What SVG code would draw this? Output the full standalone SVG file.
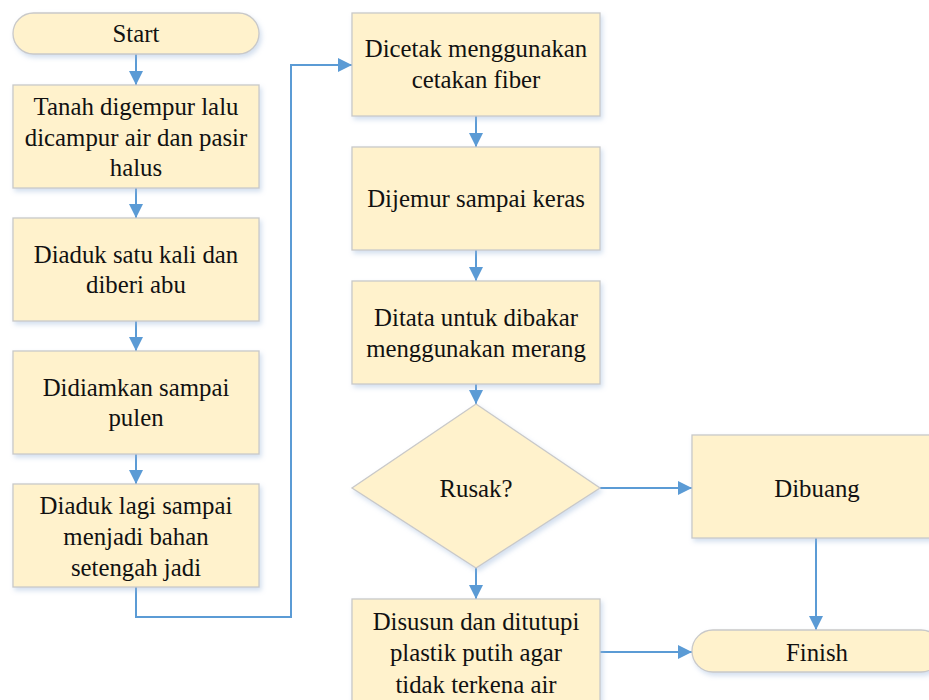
<svg xmlns="http://www.w3.org/2000/svg" width="929" height="700" viewBox="0 0 929 700">
<style>
.n{fill:#FFF2CC;stroke:#C9C9C9;stroke-width:1.3;filter:url(#sh)}
.lbl{font-family:'Liberation Serif',serif;font-size:24.8px;fill:#111;text-anchor:middle}
.c{fill:none;stroke:#5B9BD5;stroke-width:2}
</style>
<defs>
<filter id="sh" x="-10%" y="-10%" width="125%" height="130%">
<feDropShadow dx="2" dy="3" stdDeviation="2.5" flood-color="#9DB8DA" flood-opacity="0.45"/>
</filter>
<marker id="b" viewBox="0 0 14 14" markerWidth="14" markerHeight="14" refX="14" refY="7" orient="auto" markerUnits="userSpaceOnUse">
<path d="M0,0 L14,7 L0,14 z" fill="#5B9BD5"/>
</marker>
</defs>
<g id="connectors">
<path class="c" d="M136,54 V85" marker-end="url(#b)"/>
<path class="c" d="M136,188 V218" marker-end="url(#b)"/>
<path class="c" d="M136,321 V351" marker-end="url(#b)"/>
<path class="c" d="M136,454 V484" marker-end="url(#b)"/>
<path class="c" d="M136,587 V617 H291 V65 H352" marker-end="url(#b)"/>
<path class="c" d="M476,116 V147" marker-end="url(#b)"/>
<path class="c" d="M476,250 V281" marker-end="url(#b)"/>
<path class="c" d="M476,384 V404" marker-end="url(#b)"/>
<path class="c" d="M476,568 V599" marker-end="url(#b)"/>
<path class="c" d="M600,488 H692" marker-end="url(#b)"/>
<path class="c" d="M816,538 V630" marker-end="url(#b)"/>
<path class="c" d="M600,652 H692" marker-end="url(#b)"/>
</g>
<g id="start"><rect class="n" x="13" y="13" width="246" height="41" rx="20.5"/><text class="lbl" x="136" y="42">Start</text></g>
<g id="step1"><rect class="n" x="13" y="85" width="246" height="103"/><text class="lbl" x="136" y="115">Tanah digempur lalu</text><text class="lbl" x="136" y="146">dicampur air dan pasir</text><text class="lbl" x="136" y="176">halus</text></g>
<g id="step2"><rect class="n" x="13" y="218" width="246" height="103"/><text class="lbl" x="136" y="263">Diaduk satu kali dan</text><text class="lbl" x="136" y="293">diberi abu</text></g>
<g id="step3"><rect class="n" x="13" y="351" width="246" height="103"/><text class="lbl" x="136" y="396">Didiamkan sampai</text><text class="lbl" x="136" y="426">pulen</text></g>
<g id="step4"><rect class="n" x="13" y="484" width="246" height="103"/><text class="lbl" x="136" y="514">Diaduk lagi sampai</text><text class="lbl" x="136" y="545">menjadi bahan</text><text class="lbl" x="136" y="576">setengah jadi</text></g>
<g id="step5"><rect class="n" x="352" y="13" width="248" height="103"/><text class="lbl" x="476" y="57">Dicetak menggunakan</text><text class="lbl" x="476" y="88">cetakan fiber</text></g>
<g id="step6"><rect class="n" x="352" y="147" width="248" height="103"/><text class="lbl" x="476" y="207">Dijemur sampai keras</text></g>
<g id="step7"><rect class="n" x="352" y="281" width="248" height="103"/><text class="lbl" x="476" y="326">Ditata untuk dibakar</text><text class="lbl" x="476" y="357">menggunakan merang</text></g>
<g id="decision"><polygon class="n" points="476,404 600,488 476,568 352,488"/><text class="lbl" x="476" y="497">Rusak?</text></g>
<g id="step8"><rect class="n" x="352" y="599" width="248" height="110"/><text class="lbl" x="476" y="630">Disusun dan ditutupi</text><text class="lbl" x="476" y="661">plastik putih agar</text><text class="lbl" x="476" y="693">tidak terkena air</text></g>
<g id="dibuang"><rect class="n" x="692" y="435" width="250" height="103"/><text class="lbl" x="817" y="497">Dibuang</text></g>
<g id="finish"><rect class="n" x="692" y="630" width="250" height="42" rx="21"/><text class="lbl" x="817" y="661">Finish</text></g>
</svg>
